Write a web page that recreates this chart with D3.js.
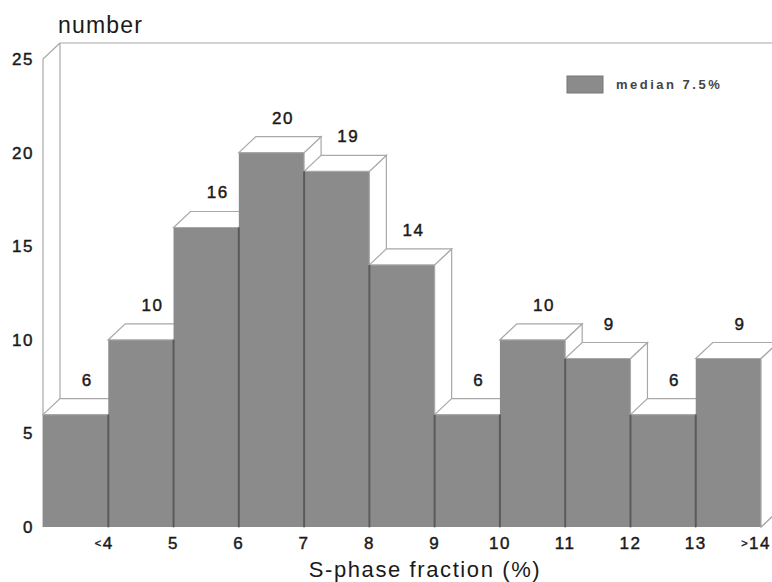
<!DOCTYPE html>
<html>
<head>
<meta charset="utf-8">
<script src="https://cdn.jsdelivr.net/npm/d3@7/dist/d3.min.js"></script>
<style>
  html, body { margin: 0; padding: 0; background: #fff; }
  svg { display: block; }
  text { font-family: "Liberation Sans", Arial, Helvetica, sans-serif; fill: #1a1a1a; }
  text.num { stroke: #1a1a1a; stroke-width: 0.45px; }
</style>
</head>
<body>
<svg id="chart" width="772" height="582"></svg>
<script>
// S-phase fraction classes and patient counts
const categories = ["<4", "5", "6", "7", "8", "9", "10", "11", "12", "13", ">14"];
const counts = [6, 10, 16, 20, 19, 14, 6, 10, 9, 6, 9];
const yTicks = [0, 5, 10, 15, 20, 25];
const legendLabel = "median 7.5%";
const yTitle = "number";
const xTitle = "S-phase fraction (%)";

const svg = d3.select("#chart");

const plot = { left: 43, right: 761, top: 59, bottom: 527 };
const depth = { dx: 17, dy: -16 };   // oblique projection of the bar depth

const x = d3.scaleBand().domain(categories).range([plot.left, plot.right]).padding(0);
const y = d3.scaleLinear().domain([0, 25]).range([plot.bottom, plot.top]);

const barFill = "#8b8b8b";
const edge = "#a8a8a8";
const divider = "#5a5a5a";

// Box frame: left wall, back top edge, floor corner
const frame = svg.append("g").attr("fill", "none").attr("stroke", edge).attr("stroke-width", 1.2);
const yMax = y(25), y0 = y(0);
frame.append("line").attr("x1", plot.left).attr("y1", yMax).attr("x2", plot.left).attr("y2", y0);
frame.append("line").attr("x1", plot.left + depth.dx).attr("y1", yMax + depth.dy)
  .attr("x2", plot.left + depth.dx).attr("y2", y0 + depth.dy);
frame.append("line").attr("x1", plot.left).attr("y1", yMax)
  .attr("x2", plot.left + depth.dx).attr("y2", yMax + depth.dy);
frame.append("line").attr("x1", plot.left + depth.dx).attr("y1", yMax + depth.dy)
  .attr("x2", plot.right + depth.dx).attr("y2", yMax + depth.dy);
frame.append("line").attr("x1", plot.right).attr("y1", y0)
  .attr("x2", plot.right + depth.dx).attr("y2", y0 + depth.dy);

// Bars drawn left to right so each one hides the side of its neighbour
const bars = svg.append("g");
categories.forEach((c, i) => {
  const v = counts[i];
  const x0 = x(c), x1 = x(c) + x.bandwidth();
  const yt = y(v);
  const g = bars.append("g");
  // front face
  g.append("rect").attr("x", x0).attr("y", yt).attr("width", x1 - x0).attr("height", y0 - yt)
    .attr("fill", barFill);
  // right side face
  g.append("path")
    .attr("d", `M${x1},${yt} L${x1 + depth.dx},${yt + depth.dy} L${x1 + depth.dx},${y0 + depth.dy} L${x1},${y0} Z`)
    .attr("fill", "#fff").attr("stroke", edge).attr("stroke-width", 1.2);
  // top face
  g.append("path")
    .attr("d", `M${x0},${yt} L${x0 + depth.dx},${yt + depth.dy} L${x1 + depth.dx},${yt + depth.dy} L${x1},${yt} Z`)
    .attr("fill", "#fff").attr("stroke", edge).attr("stroke-width", 1.2);
  // value label above the top face
  g.append("text")
    .attr("class", "num")
    .attr("x", (x0 + x1) / 2 + depth.dx / 2 + 3)
    .attr("y", yt + depth.dy - 13)
    .attr("text-anchor", "middle")
    .attr("font-size", 17)
    .attr("letter-spacing", 1.5)
    .text(v);
});

// Dark seams between adjacent bar fronts
const seams = svg.append("g").attr("stroke", divider).attr("stroke-width", 2);
categories.slice(0, -1).forEach((c, i) => {
  const xs = x(c) + x.bandwidth();
  const lower = Math.min(counts[i], counts[i + 1]);
  seams.append("line").attr("x1", xs).attr("x2", xs).attr("y1", y0).attr("y2", y(lower));
});

// Y axis tick labels (no tick marks)
svg.append("g").selectAll("text").data(yTicks).join("text")
  .attr("class", "num")
  .attr("x", 34).attr("y", d => y(d) + 6)
  .attr("text-anchor", "end")
  .attr("font-size", 17)
  .attr("letter-spacing", 1.5)
  .text(d => d);

// X axis labels: the number sits under the right edge of each class,
// an open-ended marker (< or >) hangs to its left
const xl = svg.append("g").selectAll("text").data(categories).join("text")
  .attr("class", "num")
  .attr("y", 549)
  .attr("font-size", 17)
  .attr("letter-spacing", 1.5);
xl.each(function(d) {
  const t = d3.select(this);
  const edgeX = x(d) + x.bandwidth();
  const m = d.match(/^([<>]?)(.*)$/);
  let symW = 0;
  if (m[1]) {
    const s = t.append("tspan").attr("font-size", 11).attr("dy", -2).text(m[1]);
    symW = s.node().getComputedTextLength();
  }
  const num = t.append("tspan").attr("dy", m[1] ? 2 : 0).text(m[2]);
  const numW = num.node().getComputedTextLength();
  t.attr("x", Math.min(edgeX - symW - numW / 2, 771 - symW - numW));
});

// Axis titles
svg.append("text").attr("x", 58).attr("y", 33)
  .attr("font-size", 23).attr("letter-spacing", 1.2).text(yTitle);
svg.append("text").attr("x", 425).attr("y", 577)
  .attr("text-anchor", "middle")
  .attr("font-size", 22).attr("letter-spacing", 1.6).text(xTitle);

// Legend
const legend = svg.append("g").attr("transform", "translate(567,76)");
legend.append("rect").attr("width", 36).attr("height", 17)
  .attr("fill", barFill).attr("stroke", "#777").attr("stroke-width", 1);
legend.append("text").attr("x", 49).attr("y", 13)
  .attr("font-size", 13).attr("font-weight", "bold").attr("letter-spacing", 2.5)
  .style("fill", "#444")
  .text(legendLabel);
</script>
</body>
</html>
